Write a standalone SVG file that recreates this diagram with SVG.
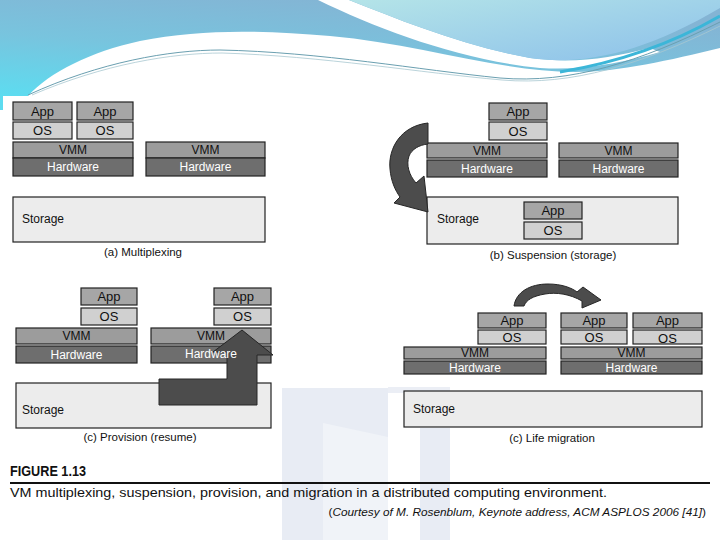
<svg xmlns="http://www.w3.org/2000/svg" width="720" height="540" viewBox="0 0 720 540">
<defs>
<linearGradient id="gBlue" x1="0" y1="1" x2="0.55" y2="0">
<stop offset="0" stop-color="#5ddcf0"/>
<stop offset="0.5" stop-color="#78c4de"/>
<stop offset="1" stop-color="#84b4d4"/>
</linearGradient>
<linearGradient id="gLight" x1="0" y1="0" x2="1" y2="1">
<stop offset="0" stop-color="#b4e4e8"/>
<stop offset="1" stop-color="#8cc0ea"/>
</linearGradient>
<style>
.b{stroke:#222;stroke-width:1.2}
.app{fill:#a6a6a6}
.os{fill:#d0d0d0}
.vmm{fill:#9c9c9c}
.hw{fill:#6e6e6e}
.st{fill:#ececec}
.t{font-family:"Liberation Sans",Arial,sans-serif;font-size:12px;fill:#111;text-anchor:middle}
.s{font-size:13px}
.tw{fill:#fff}
.tl{text-anchor:start}
.cap{font-family:"Liberation Sans",Arial,sans-serif;font-size:11.5px;fill:#111;text-anchor:middle}
.arr{fill:#4c4c4c;stroke:#262626;stroke-width:1}
.ft{font-family:"Liberation Sans",Arial,sans-serif;fill:#111}
</style>
</defs>
<rect width="720" height="540" fill="#ffffff"/>
<g id="header">
<path d="M0,0 H720 V48 C670,60 620,72 575,72 C500,72 420,44 330,36 C260,30 200,29 140,41 C90,52 50,72 28,96 H0 Z" fill="url(#gBlue)"/>
<path d="M318,0 C380,30 460,60 540,68 C585,71 625,62 660,52 L650,48 C610,58 575,64 530,58 C460,45 400,20 349,0 Z" fill="#ffffff"/>
<path d="M349,0 C400,20 460,45 530,58 C585,66 645,52 720,8 V0 Z" fill="url(#gLight)"/>
<path d="M28,95 C100,62 170,50 220,50 C320,52 420,70 500,78 C570,84 640,62 720,22" fill="none" stroke="#6a9fb0" stroke-width="1"/>
<path d="M32,95 C104,64 172,53 222,53 C322,56 422,73 502,80 C572,86 642,64 720,26" fill="none" stroke="#a8c8d0" stroke-width="0.8"/>
<path d="M560,72 C620,62 675,42 720,16" fill="none" stroke="#3cb6d8" stroke-width="3"/>
<rect x="0" y="96" width="3" height="14" fill="#5ddcf0"/>
</g>
<g id="watermark">
<rect x="282" y="388" width="106" height="152" fill="#e8ecf4"/>
<polygon points="323,423 388,437 388,540 323,540" fill="#f0f3f8"/>
<rect x="388" y="387" width="62" height="6" fill="#ebeef5"/>
<rect x="420" y="428" width="30" height="112" fill="#e8ecf4"/>
</g>
<g id="panel-a">
<g id="a-app1"><rect class="b app" x="13" y="102" width="59" height="18"/><text class="t s" x="42.5" y="115.5">App</text></g>
<g id="a-os1"><rect class="b os" x="13" y="122" width="59" height="17"/><text class="t s" x="42.5" y="135">OS</text></g>
<g id="a-app2"><rect class="b app" x="77" y="102" width="56" height="18"/><text class="t s" x="105" y="115.5">App</text></g>
<g id="a-os2"><rect class="b os" x="77" y="122" width="56" height="17"/><text class="t s" x="105" y="135">OS</text></g>
<g id="a-vmm1"><rect class="b vmm" x="13" y="142" width="120" height="16"/><text class="t" x="73" y="154">VMM</text></g>
<g id="a-hw1"><rect class="b hw" x="13" y="158" width="120" height="18"/><text class="t tw" x="73" y="171">Hardware</text></g>
<g id="a-vmm2"><rect class="b vmm" x="146" y="142" width="119" height="16"/><text class="t" x="205.5" y="154">VMM</text></g>
<g id="a-hw2"><rect class="b hw" x="146" y="158" width="119" height="18"/><text class="t tw" x="205.5" y="171">Hardware</text></g>
<g id="a-storage"><rect class="b st" x="13" y="197" width="252" height="45"/><text class="t tl" x="22" y="223">Storage</text></g>
<text class="cap" x="143" y="256">(a) Multiplexing</text>
</g>
<g id="panel-b">
<g id="b-app"><rect class="b app" x="489" y="103" width="58" height="17"/><text class="t s" x="518" y="116">App</text></g>
<g id="b-os"><rect class="b os" x="489" y="122" width="58" height="18"/><text class="t s" x="518" y="135.5">OS</text></g>
<g id="b-vmm1"><rect class="b vmm" x="427" y="143" width="120" height="15"/><text class="t" x="487" y="155">VMM</text></g>
<g id="b-hw1"><rect class="b hw" x="427" y="160" width="120" height="17"/><text class="t tw" x="487" y="173">Hardware</text></g>
<g id="b-vmm2"><rect class="b vmm" x="559" y="143" width="119" height="15"/><text class="t" x="618.5" y="155">VMM</text></g>
<g id="b-hw2"><rect class="b hw" x="559" y="160" width="119" height="17"/><text class="t tw" x="618.5" y="173">Hardware</text></g>
<g id="b-storage"><rect class="b st" x="427" y="197" width="251" height="47"/><text class="t tl" x="437" y="223">Storage</text></g>
<g id="b-sapp"><rect class="b app" x="524" y="202" width="58" height="17"/><text class="t s" x="553" y="215">App</text></g>
<g id="b-sos"><rect class="b os" x="524" y="222" width="58" height="17"/><text class="t s" x="553" y="235">OS</text></g>
<text class="cap" x="553" y="259">(b) Suspension (storage)</text>
</g>
<g id="panel-c">
<g id="c-app1"><rect class="b app" x="81" y="288" width="56" height="17"/><text class="t s" x="109" y="301">App</text></g>
<g id="c-os1"><rect class="b os" x="81" y="308" width="56" height="17"/><text class="t s" x="109" y="321">OS</text></g>
<g id="c-vmm1"><rect class="b vmm" x="16" y="328" width="121" height="16"/><text class="t" x="76.5" y="340">VMM</text></g>
<g id="c-hw1"><rect class="b hw" x="16" y="346" width="121" height="17"/><text class="t tw" x="76.5" y="359">Hardware</text></g>
<g id="c-app2"><rect class="b app" x="214" y="288" width="57" height="17"/><text class="t s" x="242.5" y="301">App</text></g>
<g id="c-os2"><rect class="b os" x="214" y="308" width="57" height="17"/><text class="t s" x="242.5" y="321">OS</text></g>
<g id="c-vmm2"><rect class="b vmm" x="151" y="328" width="120" height="16"/><text class="t" x="211" y="340">VMM</text></g>
<g id="c-hw2"><rect class="b hw" x="151" y="346" width="120" height="17"/></g>
<g id="c-storage"><rect class="b st" x="16" y="383" width="255" height="45"/><text class="t tl" x="22" y="414">Storage</text></g>
<text class="cap" x="140" y="441">(c) Provision (resume)</text>
</g>
<g id="panel-d">
<g id="d-app1"><rect class="b app" x="478" y="313" width="68" height="15"/><text class="t s" x="512" y="325">App</text></g>
<g id="d-os1"><rect class="b os" x="478" y="330" width="68" height="14"/><text class="t s" x="512" y="341.5">OS</text></g>
<g id="d-vmm1"><rect class="b vmm" x="404" y="347" width="142" height="12"/><text class="t" x="475" y="357">VMM</text></g>
<g id="d-hw1"><rect class="b hw" x="404" y="361" width="142" height="13"/><text class="t tw" x="475" y="372">Hardware</text></g>
<g id="d-app2"><rect class="b app" x="561" y="313" width="66" height="15"/><text class="t s" x="594" y="325">App</text></g>
<g id="d-os2"><rect class="b os" x="561" y="330" width="66" height="14"/><text class="t s" x="594" y="341.5">OS</text></g>
<g id="d-app3"><rect class="b app" x="633" y="313" width="69" height="15"/><text class="t s" x="667.5" y="325">App</text></g>
<g id="d-os3"><rect class="b os" x="633" y="330" width="69" height="14"/><text class="t s" x="667.5" y="342.5">OS</text></g>
<g id="d-vmm2"><rect class="b vmm" x="561" y="347" width="141" height="12"/><text class="t" x="631.5" y="357">VMM</text></g>
<g id="d-hw2"><rect class="b hw" x="561" y="361" width="141" height="13"/><text class="t tw" x="631.5" y="372">Hardware</text></g>
<g id="d-storage"><rect class="b st" x="404" y="391" width="298" height="36"/><text class="t tl" x="413" y="413">Storage</text></g>
<text class="cap" x="552" y="442">(c) Life migration</text>
</g>
<g id="connectors">
<path class="arr" d="M428,123 C401,126 388,148 390,169 C391,181 395,190 400,197 L394,203 L428,212 L424,176 L416,183 C409,175 406,165 409,156 C412,149 419,145 428,144 Z"/>
<polygon class="arr" points="159,379 227,379 227,352 213,352 242,330 273,355 257,355 257,405 159,405"/>
<path class="arr" d="M514,306 C516,292 530,284 548,284 C562,284 572,288 577,292 L583,287 L601,300 L582,308 L582,301 C570,294 556,292 545,294 C533,296 526,300 524,306 Z"/>
</g>
<g id="c-hw2-label"><text class="t tw" x="211" y="358">Hardware</text></g>
<g id="caption">
<text class="ft" x="10" y="476" font-size="15" font-weight="bold" textLength="76" lengthAdjust="spacingAndGlyphs">FIGURE 1.13</text>
<line x1="10" y1="483" x2="710" y2="483" stroke="#111" stroke-width="2"/>
<text class="ft" x="10" y="497" font-size="13" textLength="597" lengthAdjust="spacingAndGlyphs">VM multiplexing, suspension, provision, and migration in a distributed computing environment.</text>
<text class="ft" x="706" y="516" font-size="11.8" text-anchor="end">(<tspan font-style="italic">Courtesy of M. Rosenblum, Keynote address, ACM ASPLOS 2006 [41]</tspan>)</text>
</g>
</svg>
